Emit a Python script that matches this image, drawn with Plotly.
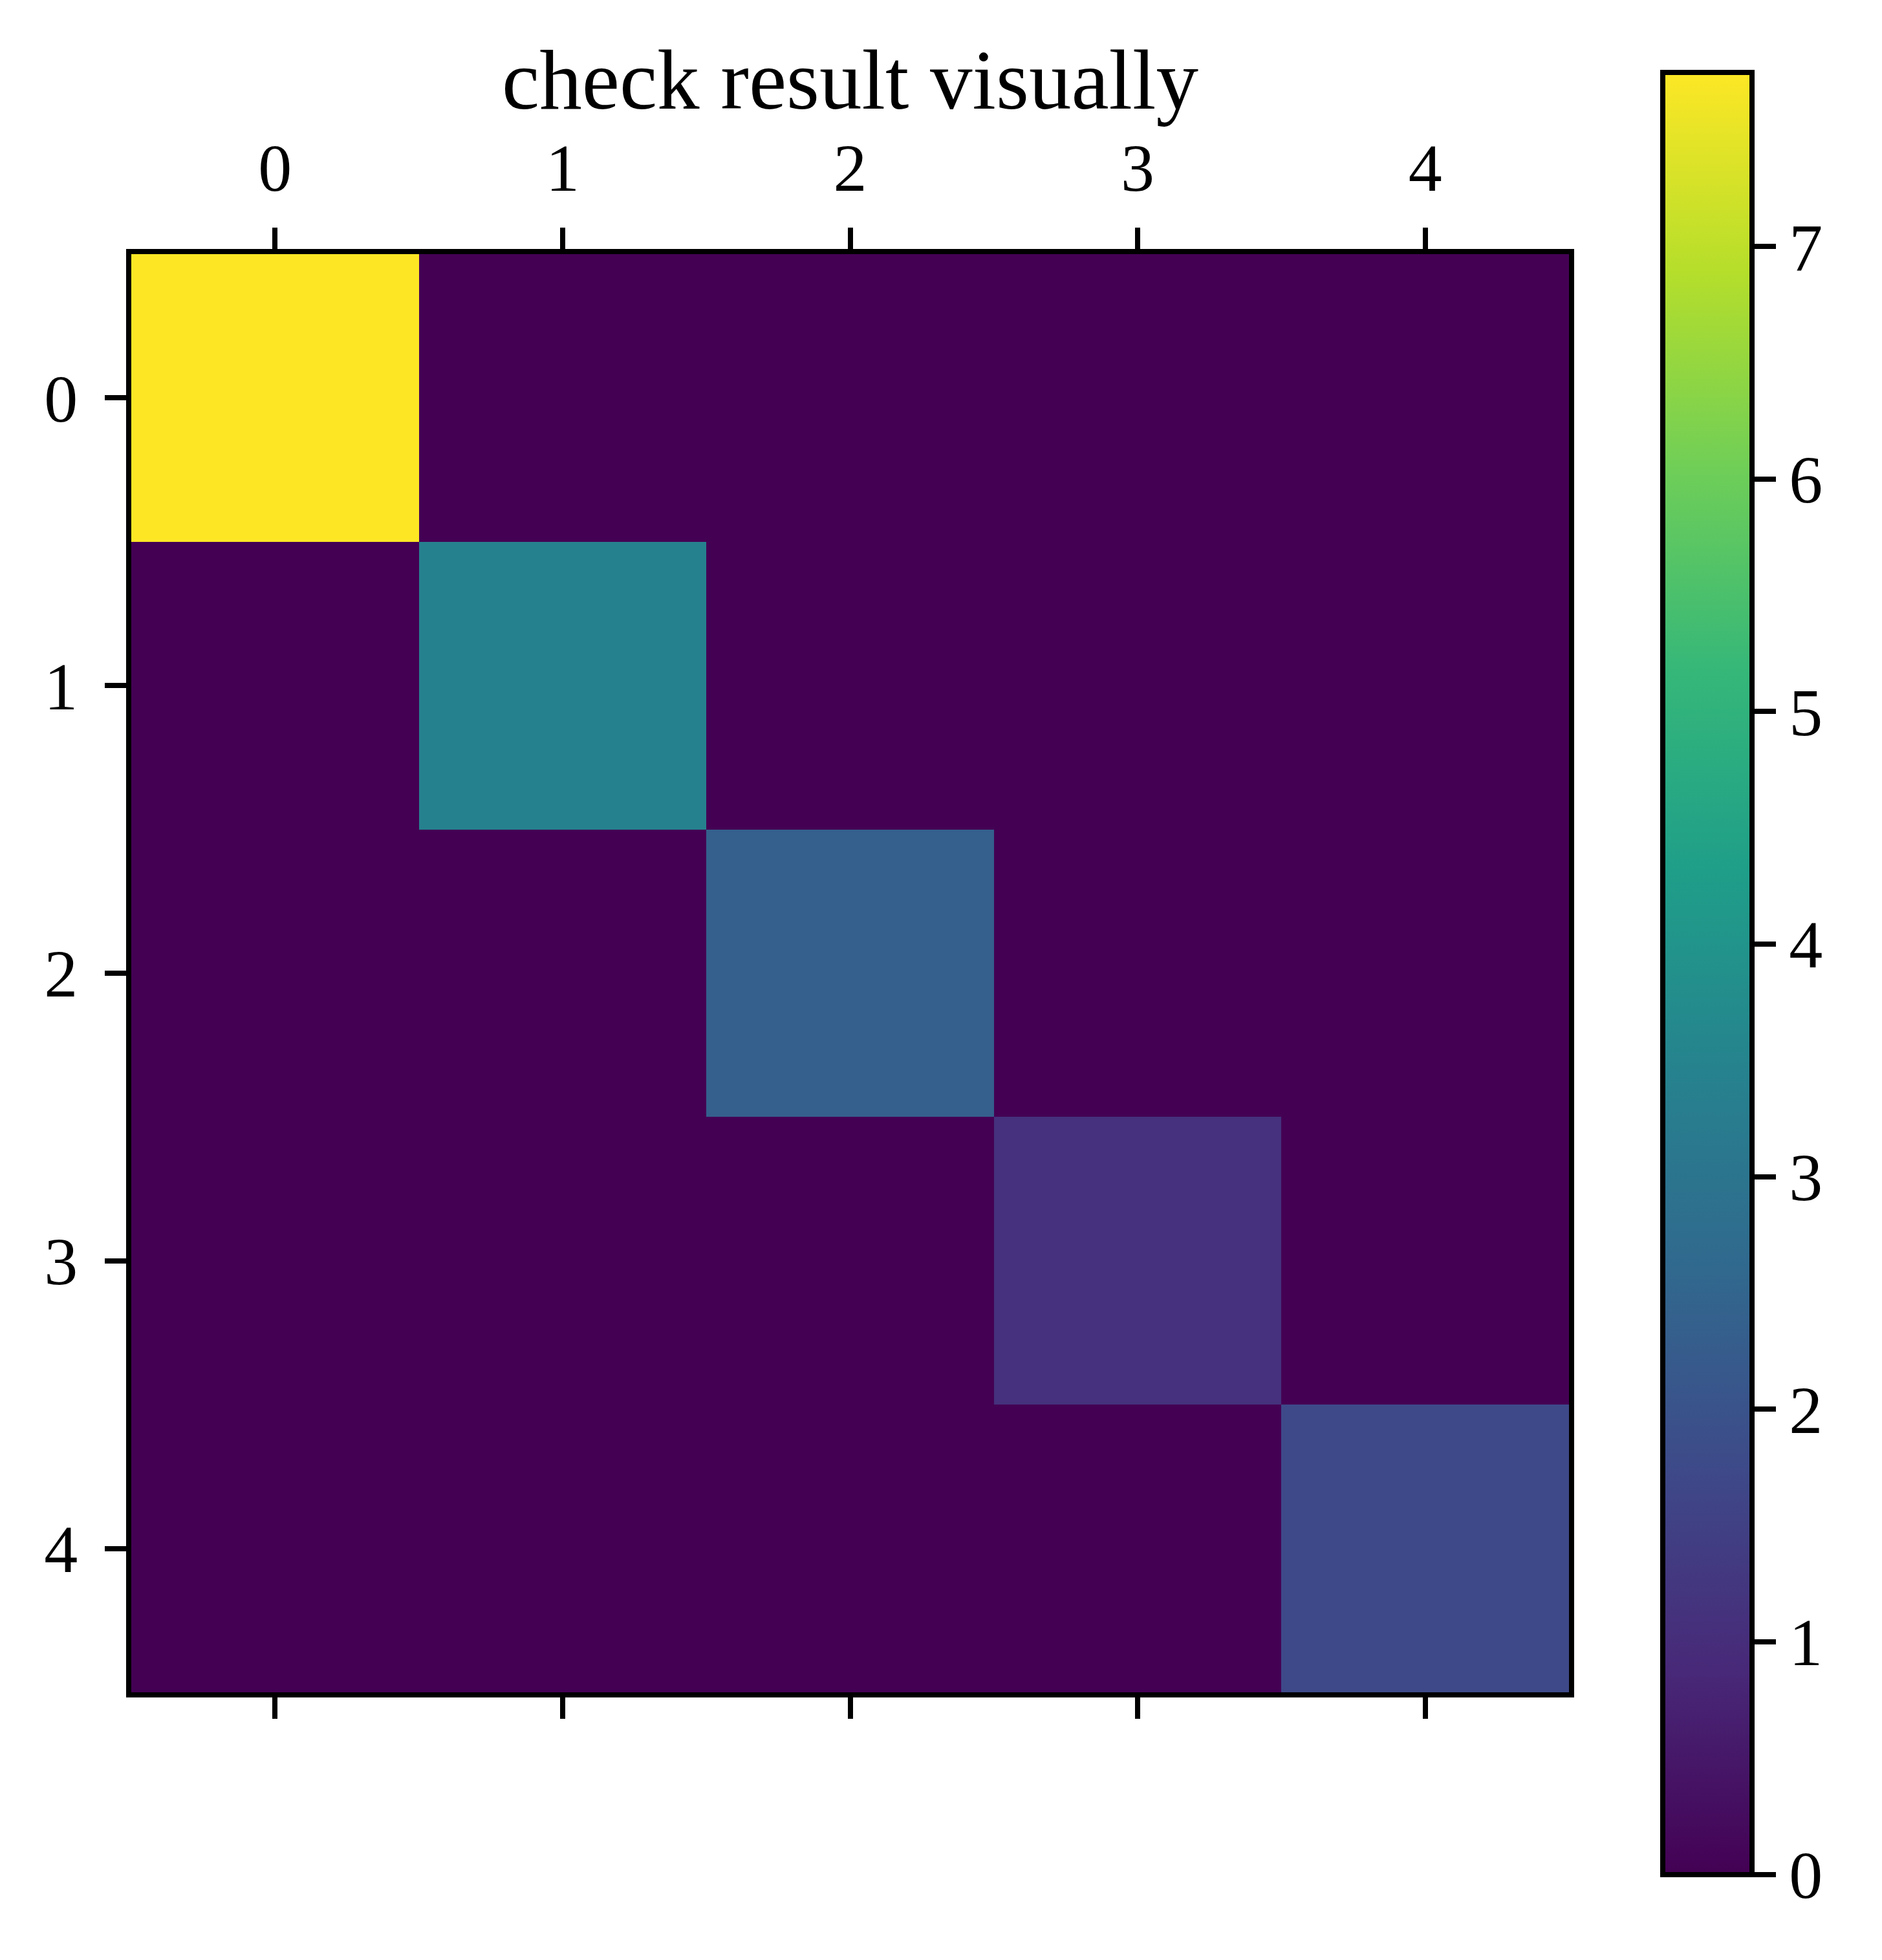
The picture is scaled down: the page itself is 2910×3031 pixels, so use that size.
import plotly.graph_objects as go

# Data
row_labels = [0, 1, 2, 3, 4]
col_labels = [0, 1, 2, 3, 4]
diag_values = [7.75, 3.41, 2.33, 1.09, 1.71]
z = [[diag_values[i] if i == j else 0.0 for j in range(5)] for i in range(5)]
cbar_ticks = [0, 1, 2, 3, 4, 5, 6, 7]
title_text = "check result visually"

FONT = "Liberation Serif"
W, H = 2910, 3031
L, R, T, B = 195, 492, 385, 422
plot_w = W - L - R
plot_h = H - T - B

fig = go.Figure(
    go.Heatmap(
        z=z, x=col_labels, y=row_labels,
        colorscale="Viridis", zmin=0, zmax=max(diag_values),
        colorbar=dict(
            x=(2563 - L) / plot_w, xanchor="left", xpad=0,
            y=0.5, yanchor="middle", ypad=0,
            len=2787, lenmode="pixels",
            thickness=138, thicknessmode="pixels",
            outlinewidth=8, outlinecolor="black",
            tickvals=cbar_ticks, ticks="outside", ticklen=33, tickwidth=8,
            tickcolor="black", tickprefix="\u2009",
            tickfont=dict(family=FONT, size=104, color="black"),
        ),
    )
)

fig.update_layout(
    width=W, height=H,
    margin=dict(l=L, r=R, t=T, b=B, autoexpand=False),
    paper_bgcolor="white", plot_bgcolor="white",
    title=dict(text=title_text, x=(L + plot_w / 2) / W, xanchor="center",
               y=1 - 114 / H, yanchor="middle", yref="container",
               font=dict(family=FONT, size=131, color="black")),
)

fig.update_xaxes(
    side="top", range=[-0.5, 4.5], tickvals=col_labels,
    ticks="outside", ticklen=33, tickwidth=8, tickcolor="black",
    showline=True, linewidth=8, linecolor="black", mirror="ticks",
    showgrid=False, zeroline=False, ticklabelstandoff=15,
    tickfont=dict(family=FONT, size=104, color="black"),
)
fig.update_yaxes(
    range=[4.5, -0.5], tickvals=row_labels,
    ticks="outside", ticklen=33, tickwidth=8, tickcolor="black",
    showline=True, linewidth=8, linecolor="black", mirror=True,
    showgrid=False, zeroline=False, ticklabelstandoff=21,
    tickfont=dict(family=FONT, size=104, color="black"),
)

fig.write_html("out.html")
